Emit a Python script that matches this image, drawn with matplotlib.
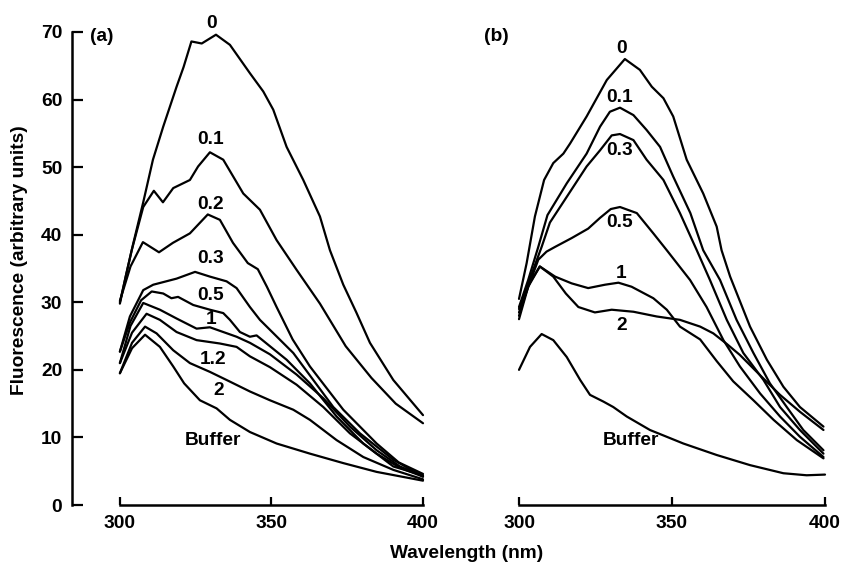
"""
Tryptophan fluorescence emission spectra, panels (a) and (b).
Curves redrawn from the published figure.
"""

import matplotlib
matplotlib.use('Agg')
import matplotlib.pyplot as plt

plt.rcParams['font.family'] = ['Liberation Sans', 'DejaVu Sans']
plt.rcParams['font.weight'] = 'bold'

FS = 13.8
LW = 1.6

# ---- panel (a) spectra ------------------------------------------------
a0_x = [300, 302, 304.3, 307.7, 310.9, 314.3, 318.7, 321, 323.6, 327, 331.7,
        336.3, 342.9, 347.3, 350.6, 355, 360.5, 366, 369.3, 373.7, 378, 382.5, 390.2, 400]
a0_y = [29.8, 34.0, 38.5, 44.8, 51.1, 56.0, 61.9, 64.8, 68.6, 68.3, 69.6,
        68.1, 63.9, 61.2, 58.5, 53.0, 48.1, 42.7, 37.7, 32.6, 28.5, 24.0, 18.5, 13.3]

a01_x = [300, 303.9, 307.7, 311.2, 314.2, 317.6, 323.1, 325.8, 329.7, 334.1, 340.7,
         346.2, 351.7, 358.3, 366, 374.5, 383, 391, 400]
a01_y = [30.0, 37.7, 44.1, 46.5, 44.8, 46.9, 48.1, 50.1, 52.2, 51.1, 46.1,
         43.7, 39.2, 34.8, 29.8, 23.5, 18.8, 15.0, 12.1]

a02_x = [300, 303.5, 307.6, 312.9, 317.5, 323.1, 329, 333, 337.3, 342.2, 345.5,
         348.5, 351.7, 357, 362.7, 373.7, 384.7, 392, 400]
a02_y = [30.2, 35.3, 38.9, 37.4, 38.8, 40.2, 43.0, 42.2, 38.8, 35.8, 34.9,
         32.3, 29.3, 24.5, 20.5, 14.1, 9.1, 6.3, 4.6]

a03_x = [300, 303.3, 307.7, 311, 318.7, 324.8, 329.7, 335.2, 338.5, 342.9, 346.2,
         357.2, 363.8, 370.4, 379.2, 390.2, 400]
a03_y = [22.7, 27.9, 31.8, 32.6, 33.5, 34.5, 33.8, 33.1, 32.1, 29.3, 27.4,
         22.5, 18.5, 14.5, 10.6, 6.7, 4.2]

a05_x = [300, 303.3, 307, 310.5, 314.3, 317, 319.2, 324.2, 329.7, 334.1, 336.3,
         339.6, 342.9, 345.1, 348.4, 355, 362.7, 371.5, 380.3, 390.2, 400]
a05_y = [22.7, 27.0, 30.3, 31.6, 31.3, 30.6, 30.8, 29.6, 28.9, 28.4, 27.4,
         25.6, 24.9, 25.1, 23.9, 21.5, 18.0, 13.1, 9.1, 5.7, 4.4]

a1_x = [300, 303.5, 307.7, 313.2, 318.7, 325.3, 329.7, 334.1, 338.5, 342.9, 349.5,
        358.3, 367.1, 375.9, 384.7, 392.4, 400]
a1_y = [21.0, 26.5, 29.9, 28.9, 27.6, 26.1, 26.3, 25.6, 24.9, 24.0, 22.3,
        19.3, 15.8, 11.6, 8.1, 5.7, 4.3]

a12_x = [300, 304, 308.8, 313.2, 318.7, 325.3, 333, 338.5, 342.9, 349.5, 358.3,
         367.1, 375.9, 384.7, 392.4, 400]
a12_y = [21.0, 25.5, 28.3, 27.4, 25.6, 24.4, 23.9, 23.4, 22.0, 20.4, 17.8,
         14.5, 10.6, 7.6, 5.5, 4.2]

a2_x = [300, 304, 308.3, 312.1, 317.6, 323.1, 329.7, 335.2, 342.9, 349.5, 357.2,
        362.7, 371.5, 380.3, 390.2, 400]
a2_y = [19.5, 24.0, 26.4, 25.4, 22.9, 21.0, 19.7, 18.5, 16.8, 15.5, 14.1,
        12.6, 9.6, 7.1, 5.2, 3.8]

abuf_x = [300, 304, 308.3, 313.2, 317.6, 321.2, 326.4, 331.9, 336.3, 342.9, 351.7,
          362.7, 373.7, 384.7, 400]
abuf_y = [19.5, 23.2, 25.2, 23.4, 20.5, 18.0, 15.5, 14.3, 12.6, 10.8, 9.1,
          7.6, 6.2, 4.9, 3.6]

# ---- panel (b) spectra ------------------------------------------------
b0_x = [300, 302.5, 305.2, 308.2, 311.2, 314.5, 316.7, 322.1, 328.7, 334.6, 339.5,
        343.4, 347.2, 350.4, 354.8, 360.2, 364.6, 366.2, 369, 375.5, 381, 386.4, 391.8, 399.5]
b0_y = [30.5, 35.8, 42.7, 48.1, 50.6, 52.0, 53.5, 57.5, 62.9, 66.0, 64.4,
        61.9, 60.2, 57.5, 51.1, 46.1, 41.2, 37.7, 33.8, 26.4, 21.5, 17.5, 14.5, 11.6]

b01_x = [300, 303, 306.3, 309.3, 315.6, 322.1, 326.5, 329.7, 333, 337.4, 341.7,
         346.1, 350.4, 356, 360.2, 365.7, 371.1, 376.6, 382, 387.5, 392.9, 399.5]
b01_y = [29.3, 33.3, 38.2, 42.9, 47.6, 52.0, 56.0, 58.2, 58.8, 57.7, 55.5,
         53.0, 48.6, 43.2, 37.7, 33.3, 27.4, 22.5, 18.0, 14.5, 11.1, 8.1]

b03_x = [300, 303, 307.4, 310.1, 315.6, 322.1, 326.5, 330.3, 333, 337.4, 341.7,
         347.2, 352.6, 358.1, 362.4, 367.9, 373.3, 379.9, 385.3, 391.8, 399.5]
b03_y = [29.0, 32.8, 38.2, 41.8, 45.6, 50.1, 52.5, 54.7, 54.9, 54.0, 51.1,
         48.1, 43.2, 37.7, 33.3, 27.4, 22.5, 18.5, 14.5, 11.1, 7.6]

b05_x = [300, 302, 306.3, 309, 311.8, 317.2, 322.6, 326.5, 330, 333, 338.5,
         343.9, 348.3, 355.9, 361.3, 366.8, 372.2, 378.8, 385.3, 391.8, 399.5]
b05_y = [28.5, 31.0, 36.3, 37.5, 38.2, 39.5, 40.9, 42.5, 43.8, 44.1, 43.2,
         40.2, 37.7, 33.3, 29.3, 24.4, 20.5, 16.5, 13.1, 10.1, 7.1]

b1_x = [300, 303, 306.8, 311.8, 317.2, 322.6, 328.1, 332.5, 336.8, 343.9, 348.3,
        352.6, 359.2, 364.6, 370, 376.6, 383.2, 390.8, 399.5]
b1_y = [28.0, 32.5, 35.3, 33.8, 32.8, 32.1, 32.6, 32.9, 32.3, 30.6, 28.9,
        26.4, 24.5, 21.3, 18.3, 15.5, 12.6, 9.6, 6.9]

b2_x = [300, 303, 306.8, 311.2, 315.3, 319.4, 324.8, 330.3, 337.4, 345, 352.6,
        359.2, 363.5, 368, 372.2, 378.8, 385.3, 391.8, 399.5]
b2_y = [27.5, 32.3, 35.3, 33.8, 31.3, 29.3, 28.5, 28.9, 28.6, 27.9, 27.4,
        26.4, 25.4, 23.8, 22.2, 19.2, 16.3, 13.8, 11.1]

bbuf_x = [300, 303.6, 307.4, 311.2, 315.6, 320, 323.2, 327.6, 330.8, 335.2, 342.8,
          353.7, 364.6, 375.5, 386.4, 394, 400]
bbuf_y = [20.0, 23.4, 25.3, 24.4, 21.9, 18.5, 16.3, 15.3, 14.5, 13.1, 11.1,
          9.1, 7.4, 5.9, 4.7, 4.4, 4.5]

# curve labels: (text, x, y)
a_labels = [('0', 330.4, 71.2), ('0.1', 330, 54.1), ('0.2', 330, 44.4),
            ('0.3', 330, 36.5), ('0.5', 330, 31.0), ('1', 330, 27.4),
            ('1.2', 330.8, 21.5), ('2', 332.7, 17.0), ('Buffer', 330.8, 9.5)]
b_labels = [('0', 333.6, 67.6), ('0.1', 333, 60.3), ('0.3', 332.8, 52.5),
            ('0.5', 333, 41.8), ('1', 333.2, 34.3), ('2', 333.6, 26.5),
            ('Buffer', 336.5, 9.5)]

a_curves = [(a0_x, a0_y), (a01_x, a01_y), (a02_x, a02_y), (a03_x, a03_y),
            (a05_x, a05_y), (a1_x, a1_y), (a12_x, a12_y), (a2_x, a2_y),
            (abuf_x, abuf_y)]
b_curves = [(b0_x, b0_y), (b01_x, b01_y), (b03_x, b03_y), (b05_x, b05_y),
            (b1_x, b1_y), (b2_x, b2_y), (bbuf_x, bbuf_y)]

W, H = 842, 565
fig = plt.figure(figsize=(W / 100, H / 100), dpi=100)

bottom = (H - 505) / H
height = (505 - 32) / H
ax_a = fig.add_axes([72 / W, bottom, (423 - 72) / W, height])
ax_b = fig.add_axes([519 / W, bottom, (825 - 519) / W, height])


def style_axis(ax, left_spine):
    ax.set_ylim(0, 70)
    for side in ('top', 'right'):
        ax.spines[side].set_visible(False)
    ax.spines['bottom'].set_bounds(300, 400)
    ax.spines['bottom'].set_linewidth(1.8)
    ax.set_xticks([300, 350, 400])
    ax.tick_params(axis='x', direction='in', length=6, width=1.6,
                   labelsize=FS, pad=7)
    if left_spine:
        ax.spines['left'].set_bounds(0, 70)
        ax.spines['left'].set_linewidth(1.8)
        ax.set_yticks(range(0, 71, 10))
        ax.tick_params(axis='y', direction='in', length=8, width=1.6,
                       labelsize=FS, pad=7)
    else:
        ax.spines['left'].set_visible(False)
        ax.set_yticks([])
    ax.patch.set_visible(False)


ax_a.set_xlim(284.2, 400)
ax_b.set_xlim(300, 400)
style_axis(ax_a, True)
style_axis(ax_b, False)

for ax, curves, labels in ((ax_a, a_curves, a_labels), (ax_b, b_curves, b_labels)):
    for xs, ys in curves:
        ax.plot(xs, ys, color='black', lw=LW, solid_joinstyle='round',
                solid_capstyle='round', clip_on=False)
    for txt, x, y in labels:
        ax.text(x, y, txt, ha='center', va='center', fontsize=FS,
                fontweight='bold', clip_on=False)

ax_a.text(294.1, 69.4, '(a)', ha='center', va='center', fontsize=FS, fontweight='bold')
ax_b.text(292.5, 69.3, '(b)', ha='center', va='center', fontsize=FS, fontweight='bold')

fig.text(467 / W, 1 - 554 / H, 'Wavelength (nm)', ha='center', va='center',
         fontsize=FS, fontweight='bold')
fig.text(20 / W, 1 - 260 / H, 'Fluorescence (arbitrary units)', ha='center',
         va='center', rotation=90, fontsize=FS, fontweight='bold')

fig.savefig('out.png', dpi=100)
